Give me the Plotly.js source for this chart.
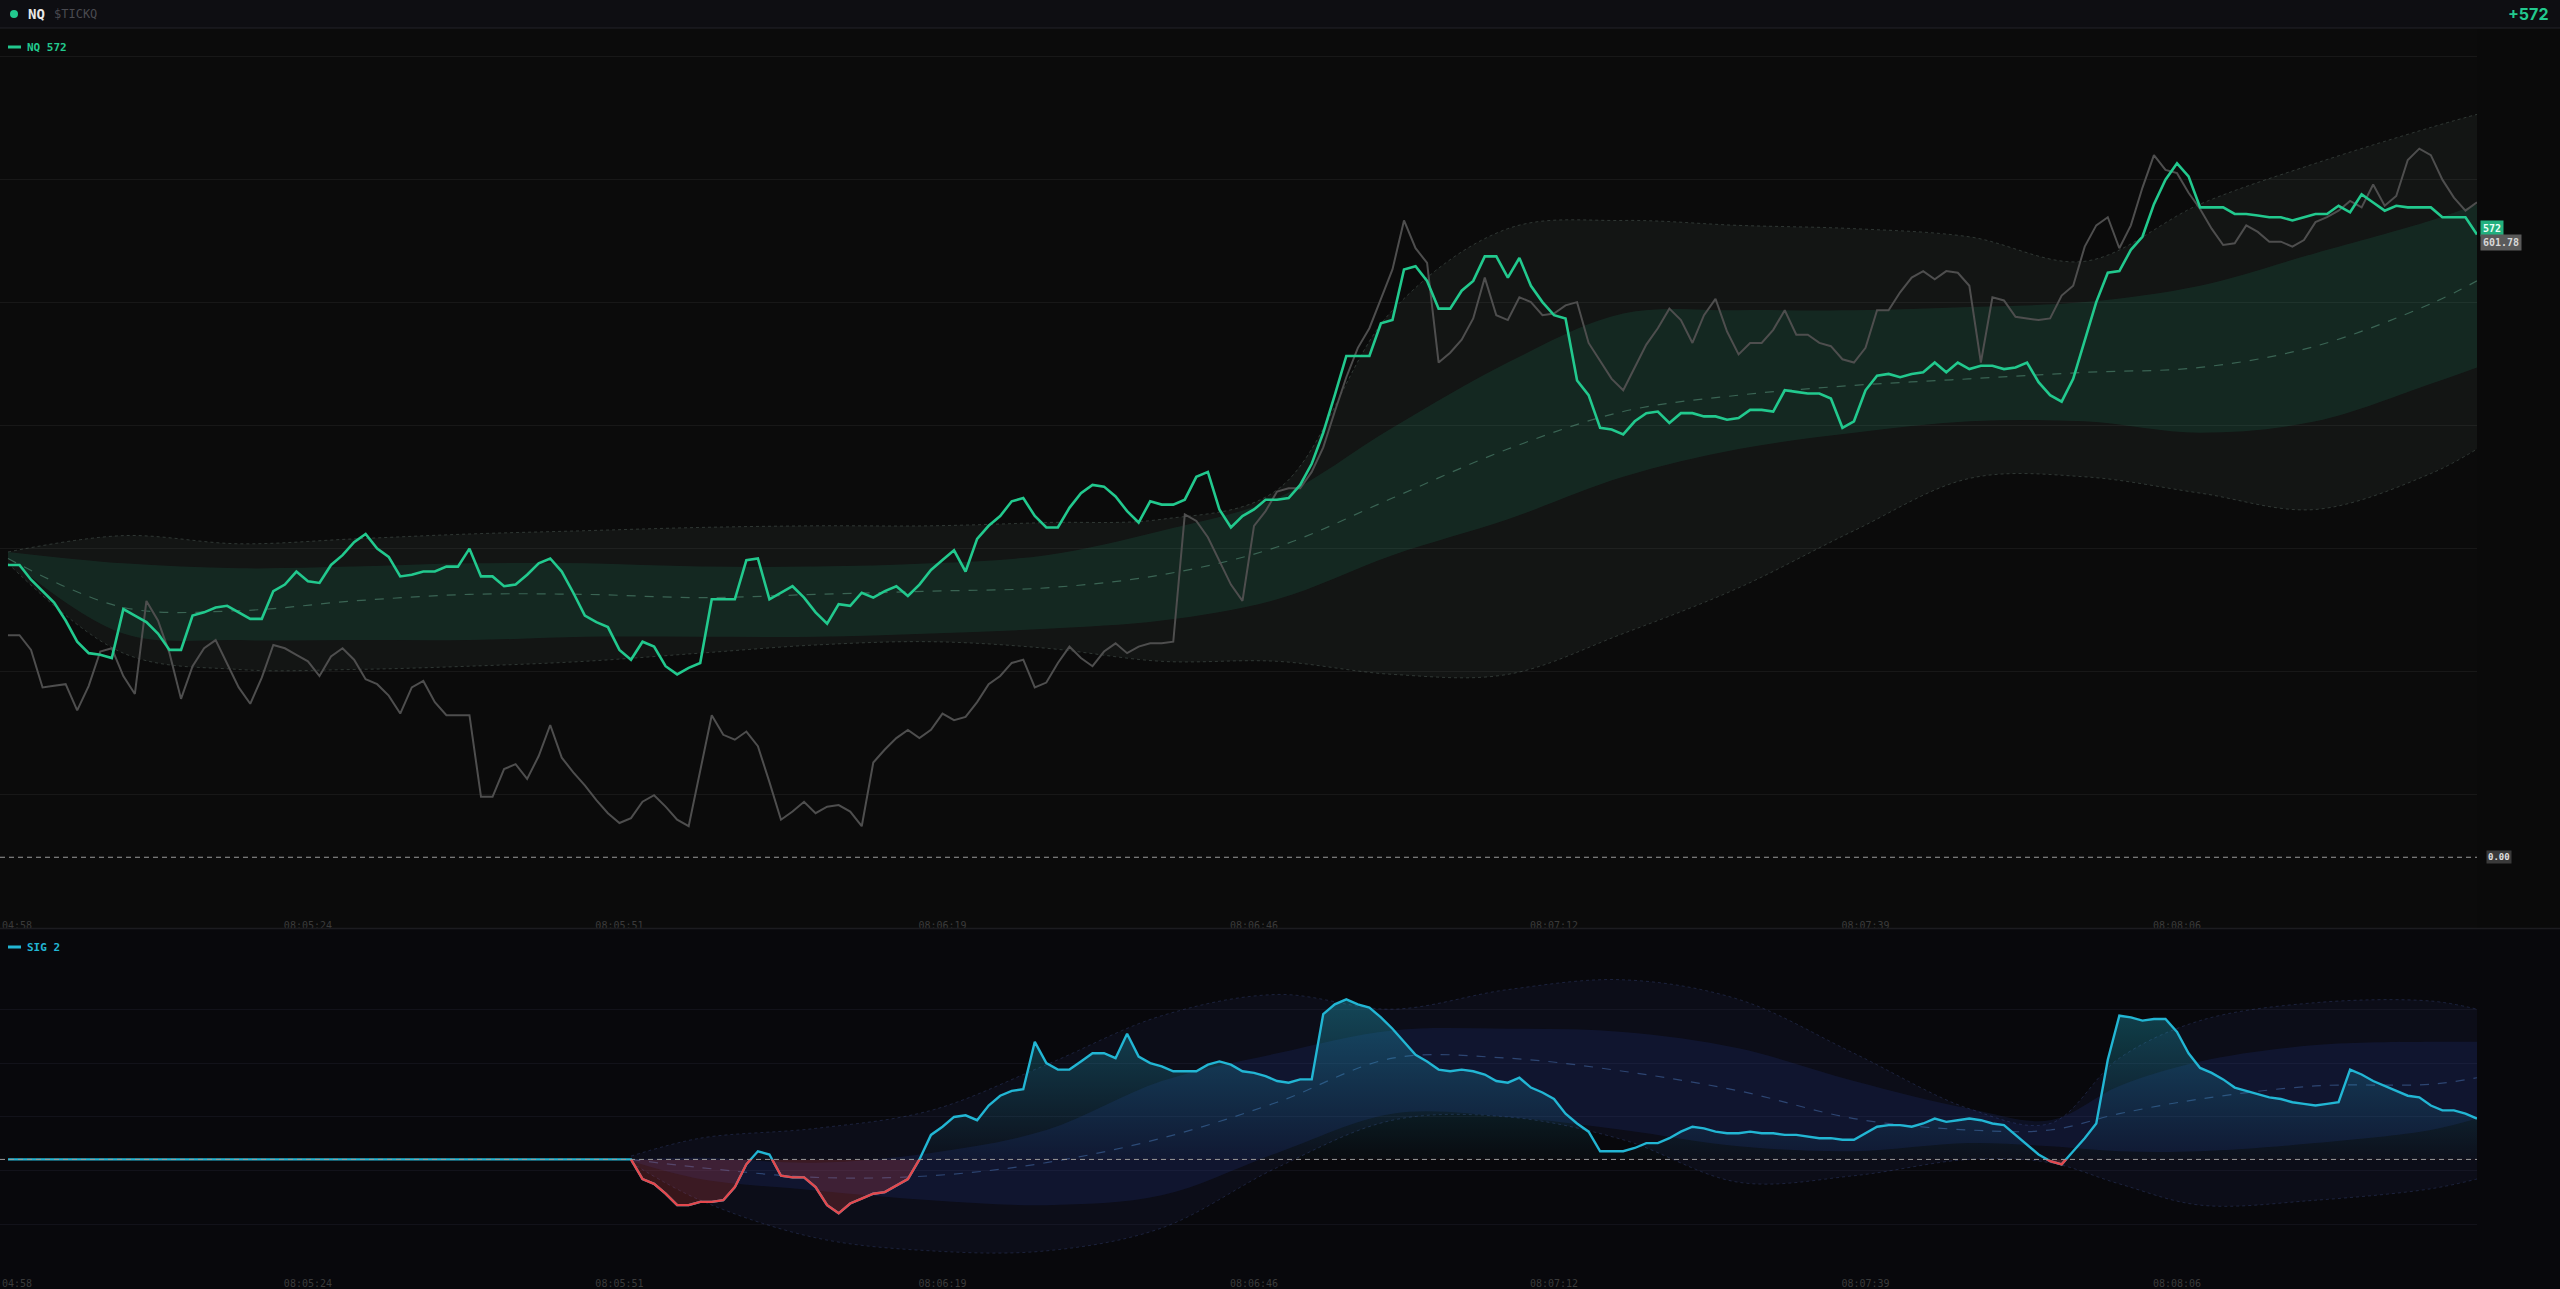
<!DOCTYPE html>
<html><head><meta charset="utf-8">
<script src="https://cdn.plot.ly/plotly-3.0.1.min.js"></script>
<style>html,body{margin:0;padding:0;background:#0b0b0b;overflow:hidden}#chart{width:2560px;height:1289px}</style>
</head><body><div id="chart"></div>
<script>
// ---------- DATA (one value per second from 08:04:58) ----------
const timeLabels = ['08:04:58','08:05:24','08:05:51','08:06:19','08:06:46','08:07:12','08:07:39','08:08:06'];
const tickSeconds = [0,26,53,81,108,134,161,188];

const nq = [
268.5,268.5,255,244.5,234,217.5,198,187.5,186,183,
228,222,216,205.5,190.5,190.5,222,225,229.5,231,
225,219,219,244.5,250.5,262.5,253.5,252,268.5,277.5,
289.5,297,283.5,276,258,259.5,262.5,262.5,267,267,
283.5,258,258,249,250.5,259.5,270,274.5,262.5,243,
222,216,211.5,190.5,181.5,198,193.5,175.5,168,174,
178.5,237,237,237,273,274.5,237,243,249,238.5,
225,214.5,232.5,231,243,238.5,244.5,249,240,250.5,
264,273,282,262.5,292.5,304.5,313.5,327,330,313.5,
303,303,321,334.5,342,340.5,331.5,318,307.5,327,
324,324,328.5,349.5,354,319.5,303,313.5,319.5,328.5,
328.5,330,342,361.5,390,424.5,460.5,460.5,460.5,490.5,
493.5,540,543,529.5,504,504,520.5,529.5,552,552,
532.5,550.5,525,510,498,495,438,424.5,394.5,393,
388.5,400.5,408,409.5,399,408,408,405,405,402,
403.5,411,411,409.5,429,427.5,426,426,421.5,394.5,
400.5,429,442.5,444,441,444,445.5,454.5,445.5,454.5,
448.5,451.5,451.5,448.5,450,454.5,436.5,424.5,418.5,439.5,
474,510,537,538.5,558,570,600,622.5,637.5,625.5,
597,597,597,591,591,589.5,588,588,585,588,
591,591,598.5,592.5,609,601.5,594,598.5,597,597,
597,588,588,588,572];

const tickq = [
204,204,190.5,156,157.5,159,135,157.5,189,192,
166.5,150,235.5,217.5,187.5,145.5,175.5,192,199.5,178.5,
156,141,165,195,192,186,180,166.5,184.5,192,
181.5,163.5,159,148.5,132,156,162,142.5,130.5,130.5,
130.5,55.5,55.5,81,85.5,72,93,121.5,91.5,78,
66,52.5,40.5,31.5,36,51,57,46.5,34.5,28.5,
81,130.5,112.5,108,115.5,102,69,34.5,42,51,
40.5,46.5,48,42,28.5,87,99,109.5,117,109.5,
117,132,126,129,142.5,159,166.5,178.5,181.5,156,
160.5,178.5,193.5,183,175.5,189,196.5,187.5,193.5,196.5,
196.5,198,315,309,294,273,250.5,235.5,304.5,318,
336,339,339,354,376.5,409.5,441,468,486,513,
540,585,559.5,546,454.5,463.5,475.5,495,532.5,498,
493.5,514.5,510,498,499.5,507,510,472.5,456,439.5,
429,450,471,486,504,493.5,472.5,498,513,483,
462,472.5,472.5,484.5,502.5,480,480,472.5,469.5,457.5,
454.5,468,502.5,502.5,519,532.5,538.5,531,538.5,537,
525,454.5,514.5,511.5,496.5,495,493.5,495,516,525,
561,580.5,588,559.5,580.5,615,645,631.5,628.5,610.5,
595.5,577.5,562.5,564,580.5,574.5,565.5,565.5,561,567,
583.5,588,594,603,597,618,598.5,607.5,640.5,651,
645,622.5,606,594,601.78];

const bandSecU = [0,10,20,30,40,50,60,70,80,90,100,110,120,130,140,150,160,170,180,190,200,210,214];
const nqOuterHi = [280.5,295.5,288,292.5,297,300,303,304.5,304.5,307.5,310.5,337.5,502.5,577.5,585,580.5,577.5,570,547.5,600,637.5,670.5,682.5];
const nqOuterLo = [270,187.5,172.5,172.5,175.5,180,187.5,195,198,192,180,180,168,168,205.5,247.5,300,348,349.5,334.5,319.5,352.5,375];
const nqInnerHi = [280.5,270,265.5,267,270,270,267,267,270,277.5,300,330,394.5,454.5,499.5,502.5,502.5,505.5,510,525,555,585,600];
const nqInnerLo = [274.5,205.5,199.5,199.5,199.5,202.5,202.5,202.5,205.5,210,217.5,237,277.5,310.5,349.5,375,390,400.5,400.5,390,400.5,435,450];
const nqMid = [274.5,229.5,226.5,235.5,241.5,241.5,238.5,241.5,244.5,247.5,259.5,285,330,375,409.5,424.5,433.5,439.5,445.5,450,469.5,508.5,529.5];

const sig = [
0,0,0,0,0,0,0,0,0,0, 0,0,0,0,0,0,0,0,0,0, 0,0,0,0,0,0,0,0,0,0,
0,0,0,0,0,0,0,0,0,0, 0,0,0,0,0,0,0,0,0,0, 0,0,0,0,0,
-12,-15,-21,-28,-28,-26,-26,-25,-17,-3,
5,3,-10,-11,-11,-17,-28,-33,-27,-24,
-21,-20,-16,-12,0,15,20,26,27,24,
33,39,42,43,72,59,55,55,60,65,
65,62,77,63,59,57,54,54,54,58,
60,58,54,53,51,48,47,49,49,89,
95,98,95,93,87,80,72,64,60,55,
54,55,54,52,48,47,50,44,41,37,
28,22,17,5,5,5,7,10,10,13,
17,20,19,17,16,16,17,16,16,15,
15,14,13,13,12,12,16,20,21,21,
20,22,25,23,24,25,24,22,21,15,
9,3,-1,-3,5,13,22,61,88,87,
85,86,86,78,65,56,53,49,44,42,
40,38,37,35,34,33,34,35,55,52,
48,45,42,39,38,33,30,30,28,25];

const bandSecL = [54,60,70,80,90,100,110,120,130,140,150,160,170,177,183,190,200,210,214];
const sigOuterHi = [2,13,19,30,58,88,101,92,104,110,98,65,31,22,62,85,96,97,92];
const sigOuterLo = [-2,-25,-48,-56,-56,-42,-5,24,26,12,-14,-10,0,-2,-15,-28,-25,-18,-12];
const sigInnerHi = [0,1,-2,4,18,48,65,79,80,78,68,48,31,24,45,60,70,72,72];
const sigInnerLo = [-1,-12,-19,-25,-28,-22,4,28,26,18,8,5,10,8,5,5,10,18,25];
const sigMid = [0,-5,-11,-10,-2,13,35,62,62,54,42,25,18,18,28,37,45,46,50];

// ---------- GEOMETRY ----------
const W = 2560, H = 1289;
const plotRight = 2477 / W;
const yU = [1 - 918 / H, 1 - 29 / H];
const yL = [1 - 1276 / H, 1 - 929 / H];
const rangeU = [-55.8, 760.9];
const rangeL = [-71.4, 141.1];
const zL = yL[0] + (0 - rangeL[0]) / (rangeL[1] - rangeL[0]) * (yL[1] - yL[0]);
const xRange = [-0.69, 214];

const idx = a => a.map((_, i) => i);

const GREEN = '#22c98e', CYAN = '#22b6d4', RED = '#e5484d';
const MONO = 'DejaVu Sans Mono, Liberation Mono, monospace';

const traces = [];
traces.push({x: bandSecU, y: nqOuterHi, xaxis:'x', yaxis:'y', mode:'lines', line:{color:'rgba(110,130,120,0.35)', width:1, dash:'dot', shape:'spline'}, hoverinfo:'skip'});
traces.push({x: bandSecU, y: nqOuterLo, xaxis:'x', yaxis:'y', mode:'lines', fill:'tonexty', fillcolor:'rgba(110,140,125,0.08)', line:{color:'rgba(110,130,120,0.35)', width:1, dash:'dot', shape:'spline'}, hoverinfo:'skip'});
traces.push({x: bandSecU, y: nqInnerHi, xaxis:'x', yaxis:'y', mode:'lines', line:{color:'rgba(0,0,0,0)', width:0, shape:'spline'}, hoverinfo:'skip'});
traces.push({x: bandSecU, y: nqInnerLo, xaxis:'x', yaxis:'y', mode:'lines', fill:'tonexty', fillcolor:'rgba(34,201,142,0.11)', line:{color:'rgba(0,0,0,0)', width:0, shape:'spline'}, hoverinfo:'skip'});
traces.push({x: bandSecU, y: nqMid, xaxis:'x', yaxis:'y', mode:'lines', line:{color:'rgba(90,150,125,0.55)', width:1.2, dash:'dash', shape:'spline'}, hoverinfo:'skip'});
traces.push({x: idx(tickq), y: tickq, xaxis:'x', yaxis:'y', mode:'lines', line:{color:'#4e4e4e', width:2}, hoverinfo:'skip'});
traces.push({x: idx(nq), y: nq, xaxis:'x', yaxis:'y', mode:'lines', line:{color:GREEN, width:2.6}, hoverinfo:'skip'});

traces.push({x: bandSecL, y: sigOuterHi, xaxis:'x2', yaxis:'y2', mode:'lines', line:{color:'rgba(70,90,160,0.30)', width:1, dash:'dot', shape:'spline'}, hoverinfo:'skip'});
traces.push({x: bandSecL, y: sigOuterLo, xaxis:'x2', yaxis:'y2', mode:'lines', fill:'tonexty', fillcolor:'rgba(60,80,170,0.08)', line:{color:'rgba(70,90,160,0.30)', width:1, dash:'dot', shape:'spline'}, hoverinfo:'skip'});
traces.push({x: bandSecL, y: sigInnerHi, xaxis:'x2', yaxis:'y2', mode:'lines', line:{color:'rgba(0,0,0,0)', width:0, shape:'spline'}, hoverinfo:'skip'});
traces.push({x: bandSecL, y: sigInnerLo, xaxis:'x2', yaxis:'y2', mode:'lines', fill:'tonexty', fillcolor:'rgba(50,80,210,0.12)', line:{color:'rgba(0,0,0,0)', width:0, shape:'spline'}, hoverinfo:'skip'});
traces.push({x: bandSecL, y: sigMid, xaxis:'x2', yaxis:'y2', mode:'lines', line:{color:'rgba(70,110,170,0.55)', width:1.2, dash:'dash', shape:'spline'}, hoverinfo:'skip'});

const sx = idx(sig);
traces.push({x: sx, y: sig, xaxis:'x2', yaxis:'y3', mode:'lines', line:{width:0, color:'rgba(0,0,0,0)'}, fill:'tozeroy',
  fillgradient:{type:'vertical', start:0, stop:100, colorscale:[[0,'rgba(34,182,212,0.02)'],[1,'rgba(34,182,212,0.35)']]}, hoverinfo:'skip'});
traces.push({x: sx, y: sig, xaxis:'x2', yaxis:'y4', mode:'lines', line:{width:0, color:'rgba(0,0,0,0)'}, fill:'tozeroy', fillcolor:'rgba(229,72,77,0.22)', hoverinfo:'skip'});
traces.push({x: sx, y: sig, xaxis:'x2', yaxis:'y2', mode:'lines', line:{color:CYAN, width:2.4}, hoverinfo:'skip'});
const sigNeg = sig.map((v, i) => (v < 0 || (i > 0 && sig[i-1] < 0) || (i < sig.length-1 && sig[i+1] < 0)) ? v : null);
traces.push({x: sx, y: sigNeg, xaxis:'x2', yaxis:'y4', mode:'lines', line:{color:RED, width:2.4}, connectgaps:false, hoverinfo:'skip'});

const gridU = [-55, 58, 171, 284, 397, 510, 623, 736];
const gridL = [-40, -7, 26, 59, 92];

const axX = (anchor) => ({domain:[0, plotRight], range:xRange, anchor:anchor, showgrid:false, zeroline:false, showline:false,
  tickmode:'array', tickvals:tickSeconds, ticktext:timeLabels, ticks:'', ticklen:0, ticklabeloverflow:'allow',
  tickfont:{family:MONO, size:10, color:'#3b3b3b'}, fixedrange:true});

const lastNq = nq[nq.length-1], lastTq = tickq[tickq.length-1];

const layout = {
  width: W, height: H, margin:{l:0, r:0, t:0, b:0},
  paper_bgcolor:'#0b0b0b', plot_bgcolor:'rgba(0,0,0,0)', showlegend:false,
  xaxis: axX('y'),
  xaxis2: axX('y2'),
  yaxis: {domain:yU, range:rangeU, showticklabels:false, ticks:'', tickmode:'array', tickvals:gridU, gridcolor:'#181818', zeroline:false, showline:false},
  yaxis2: {domain:yL, range:rangeL, showticklabels:false, ticks:'', tickmode:'array', tickvals:gridL, gridcolor:'#12121a', zeroline:false, showline:false},
  yaxis3: {domain:[zL, yL[1]], range:[0, rangeL[1]], anchor:'x2', showgrid:false, showticklabels:false, zeroline:false, showline:false},
  yaxis4: {domain:[yL[0], zL], range:[rangeL[0], 0], anchor:'x2', showgrid:false, showticklabels:false, zeroline:false, showline:false},
  shapes: [
    {type:'rect', xref:'paper', yref:'paper', x0:0, x1:1, y0:1-28/H, y1:1, fillcolor:'#0e0e12', line:{width:0}, layer:'below'},
    {type:'line', xref:'paper', yref:'paper', x0:0, x1:1, y0:1-28/H, y1:1-28/H, line:{color:'#232328', width:1}},
    {type:'rect', xref:'paper', yref:'paper', x0:plotRight, x1:1, y0:1-928/H, y1:1-29/H, fillcolor:'#0a0a0a', line:{width:0}, layer:'below'},
    {type:'rect', xref:'paper', yref:'paper', x0:0, x1:1, y0:0, y1:1-929/H, fillcolor:'#08080c', line:{width:0}, layer:'below'},
    {type:'line', xref:'paper', yref:'paper', x0:0, x1:1, y0:1-928.5/H, y1:1-928.5/H, line:{color:'#1c1c20', width:1.5}},
    {type:'line', xref:'x', yref:'y', x0:-0.69, x1:214, y0:0, y1:0, line:{color:'#9a9a9a', width:1, dash:'5px,4px'}},
    {type:'line', xref:'x2', yref:'y2', x0:-0.69, x1:214, y0:0, y1:0, line:{color:'#9a9a9a', width:1, dash:'5px,4px'}},
    {type:'circle', xref:'paper', yref:'paper', x0:10/W, x1:18/W, y0:1-18/H, y1:1-10/H, fillcolor:GREEN, line:{width:0}},
    {type:'rect', xref:'paper', yref:'paper', x0:8/W, x1:21/W, y0:1-48.5/H, y1:1-45.5/H, fillcolor:GREEN, line:{width:0}},
    {type:'rect', xref:'paper', yref:'paper', x0:8/W, x1:21/W, y0:1-948.5/H, y1:1-945.5/H, fillcolor:CYAN, line:{width:0}}
  ],
  annotations: [
    {xref:'paper', yref:'paper', x:26/W, y:1-14/H, xanchor:'left', yanchor:'middle', showarrow:false, text:'<b>NQ</b>', font:{family:MONO, size:14, color:'#e8e8e8'}},
    {xref:'paper', yref:'paper', x:52/W, y:1-14/H, xanchor:'left', yanchor:'middle', showarrow:false, text:'$TICKQ', font:{family:MONO, size:12, color:'#4a4a50'}},
    {xref:'paper', yref:'paper', x:2550/W, y:1-14/H, xanchor:'right', yanchor:'middle', showarrow:false, text:'<b>+' + lastNq + '</b>', font:{family:'Inter, Roboto, sans-serif', size:16, color:GREEN}},
    {xref:'paper', yref:'paper', x:25/W, y:1-47/H, xanchor:'left', yanchor:'middle', showarrow:false, text:'<b>NQ ' + lastNq + '</b>', font:{family:MONO, size:11, color:GREEN}},
    {xref:'paper', yref:'paper', x:25/W, y:1-947/H, xanchor:'left', yanchor:'middle', showarrow:false, text:'<b>SIG 2</b>', font:{family:MONO, size:11, color:CYAN}},
    {xref:'paper', yref:'y', x:2480/W, y:lastNq, yshift:6, xanchor:'left', yanchor:'middle', showarrow:false, text:'<b>' + lastNq + '</b>', bgcolor:'#22b07e', borderpad:2, font:{family:MONO, size:10, color:'#eafff6'}},
    {xref:'paper', yref:'y', x:2480/W, y:lastNq, yshift:-8, xanchor:'left', yanchor:'middle', showarrow:false, text:'<b>' + lastTq.toFixed(2) + '</b>', bgcolor:'#5a5a5a', borderpad:2, font:{family:MONO, size:10, color:'#d8d8d8'}},
    {xref:'paper', yref:'y', x:2486/W, y:0, xanchor:'left', yanchor:'middle', showarrow:false, text:'<b>0.00</b>', bgcolor:'#3a3a3a', borderpad:1, font:{family:MONO, size:9, color:'#e0e0e0'}}
  ]
};

Plotly.newPlot('chart', traces, layout, {staticPlot:true, displayModeBar:false});
</script></body></html>
